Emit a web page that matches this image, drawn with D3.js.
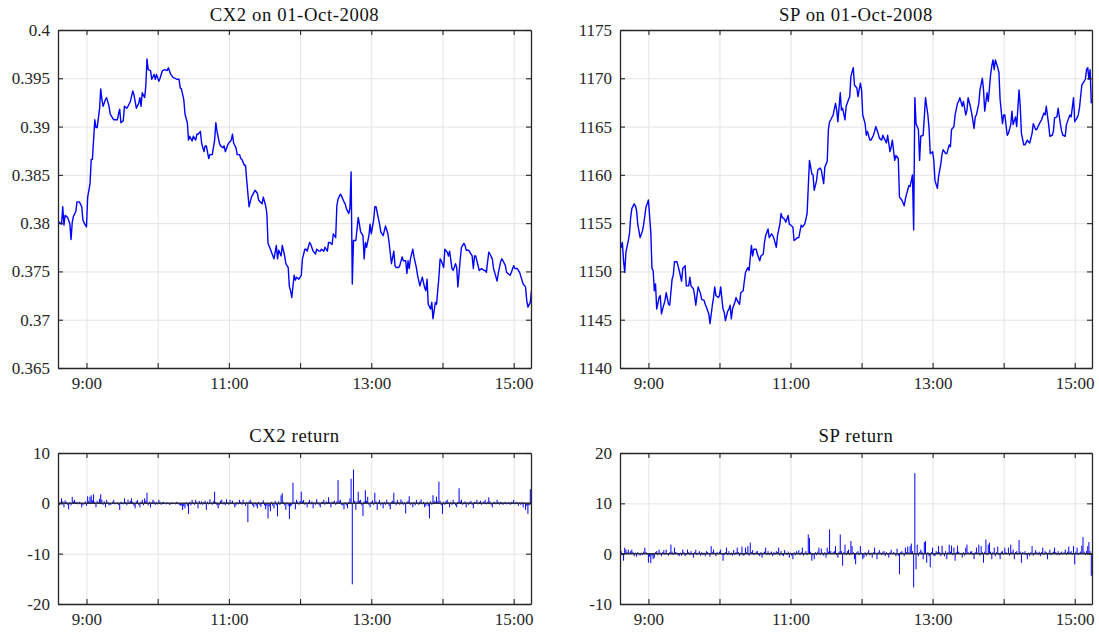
<!DOCTYPE html>
<html>
<head>
<meta charset="utf-8">
<script src="https://cdn.jsdelivr.net/npm/d3@7"></script>
<style>
  body { margin: 0; background: #fff; }
  svg text { font-family: "Liberation Serif", "Times New Roman", serif; }
</style>
</head>
<body>
<svg id="chart" width="1099" height="634"></svg>
<script>

// time is minute of the day (9:00 = 540), 01-Oct-2008
var firstMinute = 516, lastMinute = 914.6;
var hourTicks = [9, 10, 11, 12, 13, 14, 15];
var hourLabels = ["9:00", "", "11:00", "", "13:00", "", "15:00"];

var cx2Ticks = [0.365, 0.37, 0.375, 0.38, 0.385, 0.39, 0.395, 0.4];
var spTicks = [1140, 1145, 1150, 1155, 1160, 1165, 1170, 1175];
var cx2RetTicks = [-20, -10, 0, 10];
var spRetTicks = [-10, 0, 10, 20];

var titles = ["CX2 on 01-Oct-2008", "SP on 01-Oct-2008", "CX2 return", "SP return"];

var cx2Price = [
[516,.3798],[517,.3801],[519,.3799],[520,.3817],[521,.3798],[522,.3808],[524,.3806],[525,.3803],[526,.3799],[527,.3783],
[528,.3801],[529,.3807],[531,.3812],[532,.3822],[534,.3822],[536,.3817],[537,.3803],[539,.3798],[540,.3796],[541,.3827],
[543,.3841],[544,.3866],[545,.3866],[547,.3907],[548,.3899],[549,.3899],[551,.3918],[552,.3939],[553,.3928],[554,.3921],
[556,.3928],[557,.3930],[559,.3921],[560,.3913],[563,.3907],[566,.3907],[567,.3913],[568,.3918],[569,.3904],[571,.3906],
[572,.3921],[574,.3919],[575,.3921],[577,.3926],[579,.3937],[580,.3933],[582,.3919],[584,.3924],[585,.3930],[586,.3921],
[587,.3935],[589,.3930],[590,.3942],[591,.3970],[592,.3959],[594,.3958],[595,.3949],[597,.3954],[598,.3949],[599,.3954],
[601,.3947],[602,.3950],[604,.3958],[606,.3959],[608,.3958],[609,.3961],[611,.3954],[613,.3951],[616,.3949],[618,.3949],
[619,.3940],[620,.3939],[622,.3928],[623,.3913],[625,.3904],[626,.3886],[627,.3890],[629,.3885],[630,.3890],[632,.3886],
[633,.3892],[634,.3892],[636,.3895],[637,.3883],[639,.3874],[640,.3880],[641,.3880],[643,.3867],[644,.3871],[646,.3871],
[648,.3886],[649,.3904],[650,.3895],[652,.3883],[653,.3880],[655,.3878],[656,.3880],[657,.3874],[659,.3881],[660,.3883],
[662,.3886],[663,.3892],[664,.3883],[666,.3878],[667,.3871],[669,.3871],[670,.3867],[671,.3866],[673,.3860],[674,.3860],
[675,.3845],[677,.3817],[678,.3822],[679,.3827],[682,.3834],[684,.3831],[685,.3824],[688,.3820],[689,.3827],[691,.3818],
[692,.3810],[693,.3779],[695,.3773],[698,.3763],[700,.3777],[701,.3763],[702,.3772],[704,.3766],[705,.3777],[707,.3766],
[708,.3758],[710,.3754],[711,.3734],[712,.3730],[713,.3723],[715,.3746],[716,.3741],[717,.3744],[719,.3742],[721,.3746],
[722,.3763],[724,.3773],[725,.3773],[726,.3771],[728,.3780],[729,.3778],[731,.3771],[733,.3768],[734,.3773],[736,.3771],
[737,.3771],[738,.3773],[740,.3771],[741,.3775],[743,.3771],[744,.3780],[745,.3780],[747,.3778],[748,.3789],[750,.3785],
[751,.3818],[752,.3825],[754,.3830],[755,.3828],[757,.3822],[758,.3820],[759,.3815],[761,.3810],[762,.3815],[763,.3853],
[764,.3737],[765,.3782],[767,.3782],[769,.3806],[770,.3799],[771,.3791],[773,.3787],[774,.3763],[775,.3780],[776,.3775],
[778,.3787],[779,.3799],[780,.3789],[782,.3803],[783,.3817],[784,.3817],[785,.3811],[787,.3799],[788,.3791],[790,.3787],
[791,.3792],[792,.3797],[794,.3789],[795,.3780],[797,.3758],[799,.3771],[800,.3756],[801,.3754],[803,.3754],[804,.3756],
[806,.3765],[807,.3761],[809,.3761],[810,.3748],[811,.3761],[812,.3753],[813,.3763],[815,.3773],[816,.3765],[818,.3754],
[819,.3746],[821,.3735],[822,.3740],[823,.3744],[825,.3733],[826,.3730],[827,.3742],[828,.3716],[830,.3711],[831,.3718],
[832,.3701],[834,.3718],[835,.3716],[837,.3744],[838,.3763],[839,.3761],[841,.3754],[842,.3773],[844,.3770],[845,.3766],
[846,.3771],[848,.3753],[849,.3751],[851,.3758],[852,.3754],[853,.3734],[855,.3763],[856,.3775],[858,.3779],[859,.3777],
[860,.3772],[862,.3772],[863,.3770],[865,.3766],[866,.3753],[867,.3766],[868,.3766],[869,.3761],[871,.3751],[873,.3753],
[875,.3751],[876,.3751],[877,.3749],[879,.3770],[880,.3768],[882,.3763],[883,.3753],[884,.3749],[886,.3740],[887,.3748],
[889,.3760],[890,.3763],[891,.3761],[893,.3756],[894,.3749],[896,.3747],[897,.3746],[898,.3749],[900,.3756],[901,.3753],
[903,.3753],[904,.3751],[905,.3749],[907,.3741],[908,.3737],[910,.3734],[911,.3720],[912,.3713],[914,.3718],[915,.3730]
];

var spPrice = [
[516,1153.2],[517,1152.5],[518,1153.0],[519,1151.1],[520,1149.9],[521,1152.0],[523,1153.2],[524,1153.9],[525,1155.6],[526,1156.5],
[528,1157.0],[529,1156.8],[530,1156.3],[531,1154.9],[533,1153.5],[535,1154.2],[536,1154.9],[538,1156.7],[539,1157.0],[540,1157.4],
[542,1154.1],[543,1150.3],[544,1150.1],[545,1148.0],[546,1148.7],[547,1146.1],[549,1147.3],[550,1147.5],[551,1145.6],[552,1146.1],
[554,1147.0],[555,1147.8],[557,1146.6],[558,1146.5],[560,1149.2],[561,1149.6],[562,1151.0],[564,1151.0],[565,1150.6],[566,1150.1],
[568,1149.0],[569,1150.3],[571,1150.6],[572,1148.5],[574,1148.5],[575,1149.4],[576,1148.5],[578,1148.2],[579,1147.5],[580,1146.5],
[581,1147.5],[582,1148.4],[584,1147.7],[585,1147.1],[587,1147.0],[588,1146.6],[589,1146.3],[591,1145.6],[592,1144.6],[594,1146.5],
[595,1147.3],[596,1148.4],[597,1147.5],[599,1147.3],[600,1147.5],[601,1148.4],[603,1146.1],[604,1145.8],[605,1144.9],[607,1145.9],
[608,1146.1],[609,1146.5],[610,1145.1],[611,1146.1],[613,1146.8],[614,1147.3],[615,1147.0],[617,1146.6],[618,1147.8],[620,1148.0],
[621,1149.0],[622,1149.9],[624,1150.4],[625,1150.1],[627,1152.7],[628,1151.6],[629,1152.3],[631,1152.3],[632,1151.8],[634,1151.1],
[635,1151.6],[637,1151.8],[638,1153.0],[639,1153.7],[641,1154.4],[642,1153.5],[644,1153.9],[645,1153.7],[646,1153.4],[648,1152.5],
[649,1153.7],[651,1154.9],[652,1156.0],[653,1155.6],[655,1155.4],[656,1155.1],[658,1155.8],[659,1154.9],[660,1154.8],[662,1154.6],
[663,1153.2],[665,1153.4],[666,1153.5],[667,1153.5],[669,1154.8],[670,1154.6],[672,1154.9],[673,1155.4],[674,1156.0],[676,1161.5],
[678,1160.1],[679,1160.0],[680,1158.4],[682,1159.4],[683,1160.5],[685,1160.7],[686,1160.5],[688,1159.1],[689,1160.8],[691,1161.4],
[692,1164.7],[693,1165.5],[694,1165.7],[696,1166.2],[698,1167.4],[699,1166.7],[700,1165.5],[702,1168.5],[703,1166.7],[704,1166.9],
[706,1165.7],[707,1167.1],[709,1167.8],[710,1168.1],[711,1170.2],[713,1171.1],[714,1169.3],[716,1169.0],[717,1168.1],[719,1169.5],
[720,1168.8],[721,1166.2],[723,1165.3],[724,1164.1],[725,1164.5],[727,1163.6],[728,1163.6],[730,1164.1],[731,1164.5],[732,1165.0],
[734,1164.3],[735,1163.8],[737,1163.6],[738,1164.1],[739,1163.8],[741,1163.3],[742,1164.1],[744,1162.4],[745,1162.9],[746,1163.6],
[748,1161.5],[749,1162.0],[751,1161.7],[752,1157.7],[754,1157.4],[756,1156.8],[757,1157.5],[758,1158.0],[760,1158.9],[761,1158.8],
[763,1160.0],[764,1154.3],[765,1168.0],[766,1165.3],[768,1164.7],[769,1161.5],[770,1164.0],[772,1164.1],[773,1166.0],[774,1168.0],
[776,1166.2],[777,1164.8],[778,1162.2],[780,1162.4],[781,1161.5],[782,1159.4],[784,1158.6],[785,1159.8],[787,1161.2],[788,1162.2],
[789,1162.6],[791,1162.2],[792,1162.2],[794,1163.1],[795,1162.9],[796,1164.7],[798,1165.0],[799,1166.2],[801,1167.4],[802,1167.6],
[803,1168.0],[805,1167.1],[806,1167.6],[808,1166.2],[809,1166.7],[810,1168.0],[812,1167.0],[813,1166.4],[815,1164.8],[816,1166.0],
[817,1166.2],[819,1167.4],[820,1168.8],[822,1170.0],[823,1168.8],[824,1166.6],[826,1168.5],[827,1167.6],[829,1170.4],[830,1171.3],
[831,1171.9],[832,1170.9],[833,1171.9],[835,1171.1],[836,1170.6],[837,1167.8],[839,1165.3],[840,1166.2],[841,1166.2],[843,1164.1],
[844,1164.3],[846,1165.2],[847,1166.6],[848,1165.2],[850,1166.0],[851,1165.0],[853,1168.8],[854,1167.1],[855,1164.3],[857,1163.1],
[858,1163.1],[860,1163.6],[861,1163.4],[862,1163.3],[864,1164.3],[865,1165.3],[867,1164.7],[868,1164.7],[869,1165.0],[871,1165.5],
[872,1165.7],[874,1166.4],[875,1166.2],[876,1167.1],[878,1165.2],[879,1164.0],[881,1164.1],[882,1164.5],[883,1165.9],[885,1166.0],
[886,1166.9],[888,1165.2],[889,1164.5],[890,1164.1],[892,1164.0],[893,1165.2],[895,1165.9],[896,1166.2],[897,1166.0],[899,1168.0],
[900,1165.5],[902,1165.9],[903,1166.2],[904,1166.9],[906,1169.3],[907,1169.5],[909,1169.9],[910,1170.9],[911,1171.1],[912,1169.9],
[913,1170.9],[914,1167.4]
];

// one-minute returns, first value at minute 516 (8:36)
var returnStartMinute = 516;

var cx2Return = [
 0.3,-0.4, 0.2, 1.0, 0.4,-0.8, 0.6, 0.3,-0.3,-1.2,
 0.2,-0.4, 1.3, 0.4, 0.7, 0.2, 0.3,-0.2, 0.3, 0.1,
-0.8,-0.3,-0.2, 0.4,-0.5, 1.4, 0.5, 1.3, 1.6, 0.6,
 1.8, 0.3,-0.8, 0.5, 0.2, 0.9, 1.8, 0.7,-0.3, 0.4,
-0.8, 0.7, 0.2,-0.4,-0.3,-0.2, 0.3, 0.7,-0.2, 0.1,
 0.2,-0.3,-1.3, 0.3, 0.2,-0.2, 1.0, 0.3,-0.4, 0.7,
 0.2, 0.5, 1.0, 0.3,-0.5,-1.0, 0.4, 0.6,-0.3,-0.8,
 0.3, 0.7,-0.4, 1.0, 0.5, 2.1,-0.4, 0.3,-0.8, 0.2,
 0.7, 0.4,-0.3, 0.2,-0.2, 0.7, 0.3,-0.3, 0.2, 0.3,
 0.1,-0.2, 0.2, 0.1,-0.3,-0.2, 0.2,-0.1, 0.1,-0.2,
 0.3, 0.1,-0.3,-0.5,-0.4,-1.3,-0.6,-1.0, 0.2,-0.5,
-2.1, 0.3,-0.4, 0.7, 0.2,-0.3, 0.7, 0.3,-1.0, 0.5,
-0.2, 0.4,-0.3, 0.3, 0.5,-1.3, 0.3,-0.2, 0.8, 0.2,
-0.3, 0.4, 2.3, 0.3,-0.4,-1.0,-0.3, 0.5, 0.7,-0.2,
 0.3,-0.4, 0.8, 0.2,-0.3, 0.7, 0.2, 0.5,-0.2,-0.8,
-0.4, 0.3,-0.2, 0.7, 0.3,-0.3, 0.7, 0.2,-0.5, 0.3,
-3.75,0.4, 0.7, 0.3,-0.4,-0.8, 0.2,-0.5,-1.0, 0.3,
-0.3,-0.7, 0.2, 0.6,-0.4,-1.2,-0.5,-3.0,-0.6,-1.6,
 0.3,-0.5,-1.0, 0.5,-0.4,-2.6, 0.4,-0.3, 1.6, 2.0,
 0.3,-0.4,-1.3, 0.2,-0.5,-3.1,-0.6,-0.4, 4.1, 0.3,
-1.2, 0.7, 0.3,-0.3, 0.5, 2.3, 0.4, 0.7,-0.3, 0.2,
-0.8, 0.3, 0.7,-0.2, 0.4,-1.0, 0.2,-0.3, 0.8, 0.3,
-0.4,-0.8, 0.2, 0.3, 0.7,-0.3, 0.4, 0.2, 1.2, 0.3,
-0.8, 0.3, 0.3, 0.5,-0.3, 0.4, 4.6, 0.5, 0.7,-0.3,
-0.4,-1.2, 0.2,-0.4,-1.0, 0.3, 1.0, 4.9,-16.1,6.7,
 0.5,-1.3, 0.4, 2.3, 0.5, 0.7,-0.4,-2.5, 0.4, 2.6,
 0.5, 1.3,-0.3,-0.8, 0.3, 0.6,-0.3, 2.1, 0.4,-1.3,
 0.3, 0.7,-0.4, 0.2,-1.0, 0.3,-0.3, 0.7, 0.2,-0.5,
-1.2, 0.3, 0.5, 2.1, 0.3,-0.4, 0.7, 0.2,-0.3, 0.8,
 0.4,-0.3, 0.2,-2.0, 0.3, 0.5, 1.4,-0.3, 0.2,-0.8,
 0.3,-0.4, 0.7, 0.2,-0.3, 0.4, 0.8,-0.2, 0.3,-0.8,
-0.5, 0.3,-0.6,-3.0, 0.4,-0.3, 1.6, 0.5, 0.3, 1.3,
 0.4, 4.3, 0.5,-0.4,-2.1, 0.3,-0.3, 0.5, 0.7, 0.2,
-0.8, 0.3,-0.3, 0.7, 0.2,-0.4,-0.8, 0.3, 3.0, 0.4,
 0.7,-0.3, 0.2, 0.4,-0.8, 0.2,-0.3, 0.3, 0.5,-0.3,
-1.0, 0.3, 0.2, 0.7,-0.2, 0.3, 0.5,-0.3, 0.2, 0.4,
 0.7,-0.2, 0.3, 1.2, 0.4,-0.3,-0.8, 0.2, 0.3,-0.2,
 0.7, 0.3,-0.3, 0.3, 0.2,-0.3, 0.2, 0.3,-0.2, 0.2,
 0.2,-0.3, 0.3, 0.2, 0.7,-0.2, 0.3, 0.2,-0.5, 0.2,
-0.3, 0.3,-0.8, 0.2,-1.3,-0.5,-2.1,-0.4, 2.8
];

var spReturn = [
 0.3, 0.5,-0.3,-1.4, 1.2, 0.8, 0.3, 0.8, 0.2, 0.5,
 0.8, 0.3,-0.5, 0.2,-0.6, 0.3,-0.1,-0.4, 0.2,-0.3,
 0.4, 1.2, 0.3,-0.2,-1.8,-0.6,-1.9,-0.4,-1.1,-0.8,
 0.3, 0.5,-0.3, 0.8, 0.2,-0.5, 0.3, 0.7,-0.2, 0.8,
-0.1,-0.4, 0.3, 1.8, 0.4,-0.2, 1.2, 0.3, 0.2,-0.3,
-0.5, 0.2,-0.4, 0.8, 0.3,-0.5,-0.2, 0.8, 0.3,-0.3,
 0.5,-0.2,-0.8, 0.3, 0.8,-0.3, 0.2, 0.5,-0.4, 0.3,
-0.3, 0.2,-0.5, 0.5, 0.3,-0.1,-0.6, 1.5, 0.3, 0.8,
 0.2,-0.5, 0.3,-0.1, 0.4, 0.8,-0.2,-1.4,-0.3, 0.3,
 1.2,-0.3, 0.5,-0.3, 0.2,-0.4, 0.7,-0.2, 0.3, 1.2,
 0.3,-0.5, 0.2, 1.4,-0.4,-0.3, 1.2, 0.3, 1.5,-0.4,
 2.2, 0.3, 0.7,-0.3,-0.1, 0.4, 0.5,-0.2,-0.5, 0.3,
-0.8, 0.2, 0.4, 1.2,-0.3, 0.5,-0.3, 0.2, 0.4,-0.5,
 0.3,-0.2, 0.5, 0.3, 1.2,-0.4, 0.5,-0.3,-0.5, 0.7,
 0.2,-0.3, 0.4,-0.8, 0.2,-0.4,-1.1, 0.3,-0.3, 0.5,
 0.2, 0.7,-0.3, 0.3, 1.2,-0.4, 0.2, 0.5,-0.3, 3.8,
 3.1, 0.4,-1.4,-0.3,-1.1, 0.3,-0.3, 0.4, 1.2,-0.3,
 1.0, 0.2,-0.4, 0.3,-0.8, 1.2, 0.4, 4.8, 0.5,-0.1,
 0.3, 0.5, 1.5,-0.3,-0.8, 0.4, 3.8, 0.5,-2.4, 0.3,
 1.8,-0.3, 0.5, 0.8,-0.3, 2.5, 1.5, 0.3,-1.1,-2.1,
 0.3, 0.5,-0.3, 1.5, 0.2,-1.1,-0.8, 0.3,-0.5, 0.2,
 0.7,-0.3, 0.2,-0.8, 0.3, 1.2, 0.2,-1.1, 0.3, 0.7,
 0.2,-0.3, 0.4, 0.5,-0.5, 0.3,-0.2,-0.8, 0.3, 0.8,
-0.1, 0.3, 0.2,-0.5, 1.0,-0.4,-4.1, 0.3, 0.5, 0.2,
-0.5, 1.2, 0.3, 1.4, 0.3, 1.5, 2.0, 0.5,-6.7,16.0,
-3.1, 1.8,-0.5, 0.3, 0.8, 0.4,-1.1, 2.3, 2.5,-1.8,
 0.3,-0.5,-2.7, 0.3, 1.2,-0.4,-0.5, 0.5, 0.3, 1.5,
 0.3,-0.5, 1.6, 0.2,-0.5, 0.5,-1.1, 0.3, 1.8, 0.4,
 1.6,-0.3, 1.2,-1.4, 0.3, 1.6, 0.4, 0.2,-0.1,-0.8,
 0.3,-0.4, 1.2, 1.8, 0.3,-0.1, 0.4, 0.5,-0.2,-1.1,
 0.3, 1.2, 0.2, 1.8,-0.4, 1.5, 0.3,-1.8, 0.4, 2.8,
-0.3, 1.8, 2.2, 0.4,-1.1, 0.3, 1.2,-0.5, 0.3, 1.4,
-0.3,-1.1, 0.4, 0.5,-0.2, 1.2, 0.3,-0.1, 1.2,-0.4,
 1.8, 0.3, 0.8,-1.1, 0.3, 0.5,-0.2, 2.7, 0.4,-1.8,
 0.3, 0.2, 0.5,-0.3,-1.1, 0.2,-0.5, 0.3, 1.5,-0.4,
 0.2, 0.7, 0.3,-0.2, 0.4,-0.5, 0.3, 1.2,-0.2, 0.5,
 0.3,-1.1, 0.2, 0.8,-0.3, 0.2, 0.4, 1.2, 0.3,-0.3,
 0.5,-0.3, 0.2, 0.4,-0.1, 0.3, 0.8,-0.2, 0.4, 1.4,
 0.3, 0.5,-0.2, 1.5,-2.1, 0.4, 1.2,-0.3, 0.2, 0.4,
 1.6, 3.3, 0.4,-0.3, 0.5, 1.5, 2.3, 0.5,-4.4
];

function toDate(m) { return new Date(2008, 9, 1, 0, 0, Math.round(m * 60)); }

var svg = d3.select("#chart");
var axisColor = "#262626", gridColor = "#e3e3e3";
var hours = hourTicks.map(function(h) { return toDate(h * 60); });

function drawPanel(p, idx) {
  var x = d3.scaleTime()
    .domain([toDate(firstMinute), toDate(lastMinute)])
    .range([p.left, p.left + p.width]);
  var y = d3.scaleLinear()
    .domain([p.ticks[0], p.ticks[p.ticks.length - 1]])
    .range([p.top + p.height, p.top]);
  var bottom = p.top + p.height, right = p.left + p.width;
  var g = svg.append("g");

  // grid
  var vg = g.append("g").attr("transform", "translate(0," + bottom + ")")
    .call(d3.axisBottom(x).tickValues(hours).tickSize(-p.height).tickFormat(""));
  var hg = g.append("g").attr("transform", "translate(" + p.left + ",0)")
    .call(d3.axisLeft(y).tickValues(p.ticks).tickSize(-p.width).tickFormat(""));
  [vg, hg].forEach(function(a) {
    a.select(".domain").remove();
    a.selectAll("line").attr("stroke", gridColor).attr("stroke-width", 1);
  });

  g.append("clipPath").attr("id", "clip" + idx)
    .append("rect").attr("x", p.left).attr("y", p.top)
    .attr("width", p.width).attr("height", p.height);
  var plot = g.append("g").attr("clip-path", "url(#clip" + idx + ")");

  if (p.kind == "line") {
    var line = d3.line()
      .x(function(d) { return x(toDate(d[0])); })
      .y(function(d) { return y(d[1]); });
    plot.append("path").datum(p.data)
      .attr("d", line)
      .attr("fill", "none")
      .attr("stroke", "#0000ff")
      .attr("stroke-width", 1.4)
      .attr("stroke-linejoin", "round");
  } else {
    var tx = function(d, i) { return x(toDate(returnStartMinute + i)); };
    plot.selectAll("line.stem").data(p.data).enter().append("line")
      .attr("class", "stem")
      .attr("x1", tx)
      .attr("x2", tx)
      .attr("y1", y(0))
      .attr("y2", function(d) { return y(d); })
      .attr("stroke", "#0000ff")
      .attr("stroke-width", 1);
    plot.append("line")
      .attr("x1", p.left).attr("x2", right)
      .attr("y1", y(0)).attr("y2", y(0))
      .attr("stroke", "#2a2a40")
      .attr("stroke-width", 1.5);
  }

  // axes, MATLAB style box with inward ticks
  var fmtX = function(d, i) { return hourLabels[i]; };
  var axes = [
    g.append("g").attr("transform", "translate(0," + bottom + ")")
      .call(d3.axisBottom(x).tickValues(hours).tickSizeInner(-5).tickSizeOuter(0).tickPadding(9).tickFormat(fmtX)),
    g.append("g").attr("transform", "translate(0," + p.top + ")")
      .call(d3.axisTop(x).tickValues(hours).tickSizeInner(-5).tickSizeOuter(0).tickFormat("")),
    g.append("g").attr("transform", "translate(" + p.left + ",0)")
      .call(d3.axisLeft(y).tickValues(p.ticks).tickSizeInner(-5).tickSizeOuter(0).tickPadding(8)
        .tickFormat(function(d) { return String(d); })),
    g.append("g").attr("transform", "translate(" + right + ",0)")
      .call(d3.axisRight(y).tickValues(p.ticks).tickSizeInner(-5).tickSizeOuter(0).tickFormat(""))
  ];
  axes.forEach(function(a) {
    a.attr("color", axisColor)
     .attr("font-family", "Liberation Serif, Times New Roman, serif")
     .attr("font-size", 17);
    a.select(".domain").attr("stroke-width", 1.3);
    a.selectAll(".tick line").attr("stroke-width", 1.1);
  });

  g.append("text")
    .attr("x", p.left + p.width / 2)
    .attr("y", p.titleY)
    .attr("text-anchor", "middle")
    .attr("font-size", 18.7)
    .attr("letter-spacing", 0.6)
    .attr("fill", "#111")
    .text(p.title);
}

var panels = [
  {left: 58, top: 30, width: 473, height: 338, ticks: cx2Ticks, data: cx2Price, kind: "line", title: titles[0], titleY: 21},
  {left: 620, top: 30, width: 472, height: 338, ticks: spTicks, data: spPrice, kind: "line", title: titles[1], titleY: 21},
  {left: 58, top: 453, width: 473, height: 151, ticks: cx2RetTicks, data: cx2Return, kind: "stem", title: titles[2], titleY: 442},
  {left: 620, top: 453, width: 472, height: 151, ticks: spRetTicks, data: spReturn, kind: "stem", title: titles[3], titleY: 442}
];
panels.forEach(drawPanel);

</script>
</body>
</html>
